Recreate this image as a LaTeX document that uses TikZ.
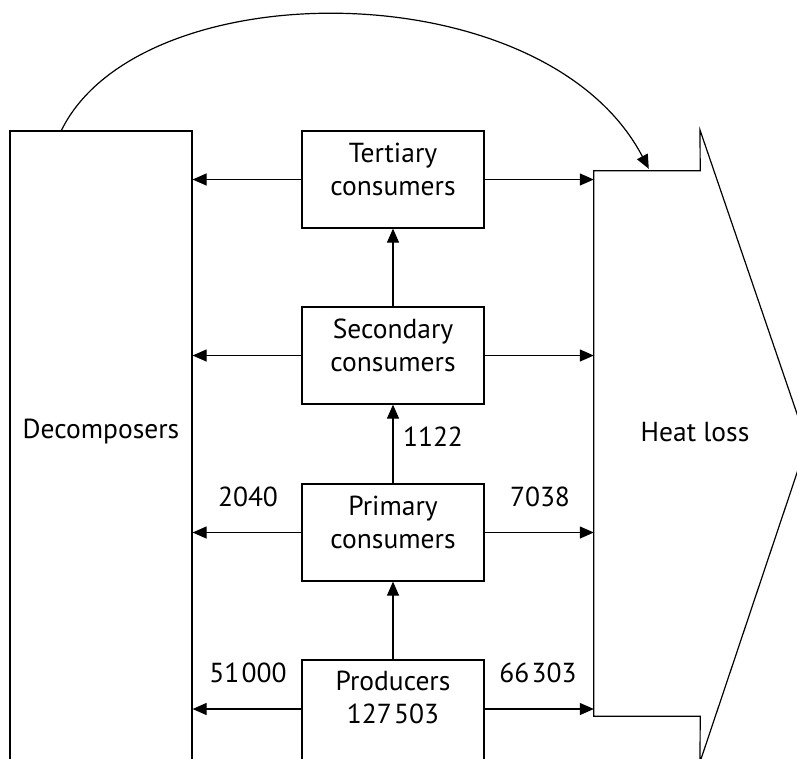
\documentclass[tikz,border=0pt]{standalone}
\usepackage{fontspec}
\setmainfont{PT Sans}
\usetikzlibrary{arrows.meta,calc}

\newcommand{\thin}{\kern2.5pt}

\tikzset{
  box/.style={draw, line width=1.2pt, minimum width=182pt, minimum height=97pt, inner sep=0pt},
  txt/.style={align=center, inner sep=0pt, font=\fontsize{27.5}{33}\selectfont},
  flow/.style={line width=1.2pt, -{Triangle[length=14pt,width=12pt]}},
  outline/.style={line width=1.2pt, line join=miter},
}

\begin{document}
\begin{tikzpicture}[x=1pt, y=-1pt]
  \useasboundingbox (0,0) rectangle (797,758);
  \begin{scope}
    \clip (0,0) rectangle (797,758);

    % side compartment, running off the lower edge
    \node[box, minimum width=182pt, minimum height=634pt] (dec) at (101,448) {};
    \node[txt] (dec-t) at (101,432) {Decomposers};

    % heat-loss block arrow body (outline drawn below)
    \node[inner sep=0pt, minimum width=106pt, minimum height=545pt] (heat) at (647,443.5) {};
    \draw[outline] (heat.north east) -- (heat.north west) -- (heat.south west)
      -- (heat.south east) -- (700,762) -- (807,443) -- (700,130) -- cycle;
    \node[txt] (heat-t) at (695,432) {Heat loss};

    % trophic levels
    \node[box] (ter) at (393,179.5) {};
    \node[box] (sec) at (393,355.5) {};
    \node[box] (pri) at (393,532.5) {};
    \node[box, minimum height=105pt] (pro) at (393,712.5) {};
    \node[txt] (ter-t) at (393,169) {Tertiary\\consumers};
    \node[txt] (sec-t) at (393,345) {Secondary\\consumers};
    \node[txt] (pri-t) at (393,522) {Primary\\consumers};
    \node[txt] (pro-t) at (393,697) {Producers\\127\thin503};

    % upward flows
    \draw[flow] (pro.north) -- (pri.south);
    \draw[flow] (pri.north) -- (sec.south);
    \draw[flow] (sec.north) -- (ter.south);

    % sideways flows
    \foreach \n in {ter,sec,pri} {
      \draw[flow] (\n.west) -- (\n.west -| dec.east);
      \draw[flow] (\n.east) -- (\n.east -| heat.west);
    }
    \coordinate (prol) at (pro.north west |- 0,709);
    \coordinate (pror) at (pro.north east |- 0,709);
    \draw[flow] (prol) -- (prol -| dec.east);
    \draw[flow] (pror) -- (pror -| heat.west);

    % flow values
    \node[txt] (v1122) at (433,437) {1122};
    \node[txt] (v2040) at (248,497) {2040};
    \node[txt] (v7038) at (540,497) {7038};
    \node[txt] (v51000) at (248,673) {51\thin000};
    \node[txt] (v66303) at (538,673) {66\thin303};

    % decomposers to heat loss
    \coordinate (arcstart) at ($(dec.north west)+(52,0)$);
    \coordinate (arcend) at ($(heat.north west)+(55,-2)$);
    \draw[flow] (arcstart) .. controls (140,-30) and (545,-30) .. (arcend);
  \end{scope}
\end{tikzpicture}
\end{document}
